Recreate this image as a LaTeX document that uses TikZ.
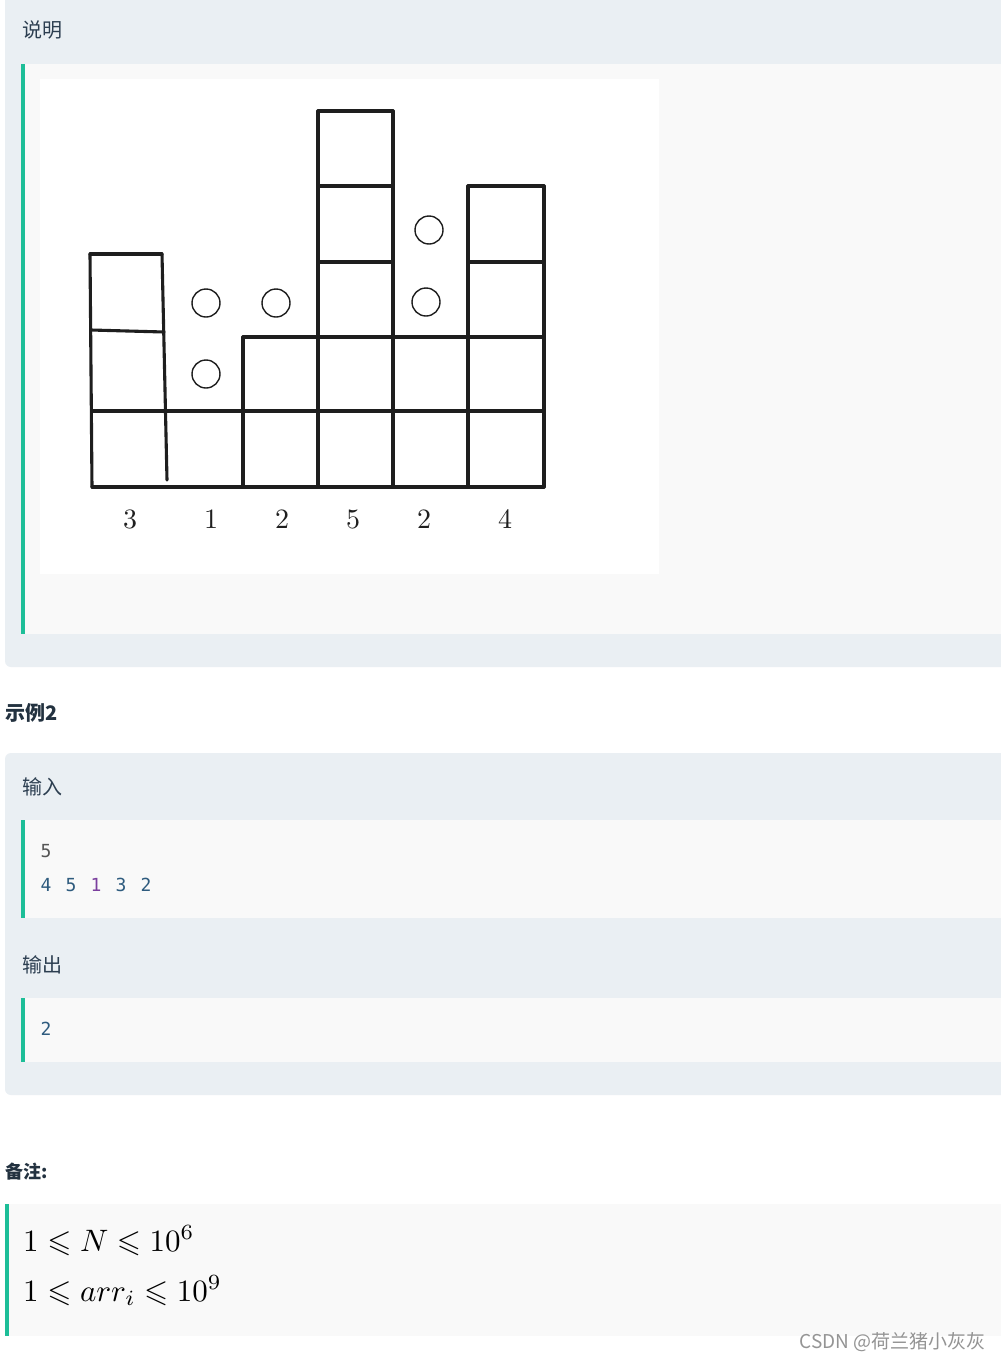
\documentclass[tikz,border=0pt]{standalone}
\usepackage{amssymb}
\usepackage{graphicx}
\usepackage{fontspec}
\newfontfamily\cjk{Noto Sans CJK SC}
\newfontfamily\monof{DejaVu Sans Mono}
\definecolor{panelbg}{HTML}{EAEFF3}
\definecolor{innerbg}{HTML}{F9F9F9}
\definecolor{accent}{HTML}{1DBE98}
\definecolor{headtxt}{HTML}{2C3E50}
\definecolor{numblue}{HTML}{2E5B7E}
\definecolor{numpurple}{HTML}{7B3F9E}
\definecolor{numgray}{HTML}{555555}
\definecolor{gridline}{HTML}{1E1E1E}
\newcommand{\bigmath}[1]{\scalebox{3.1}{\fontsize{10}{12}\selectfont$#1$}}
\newcommand{\biglbl}[1]{\scalebox{2.8}{\fontsize{10}{12}\selectfont$#1$}}
\tikzset{
  head/.style={anchor=west,text=headtxt,font=\cjk\fontsize{20}{24}\selectfont,inner sep=0pt},
  boldhead/.style={anchor=west,text=headtxt!80!black,font=\cjk\bfseries\fontsize{20}{24}\selectfont,inner sep=0pt},
  code/.style={anchor=base,font=\monof\fontsize{18}{22}\selectfont,inner sep=0pt},
  lbl/.style={anchor=base,inner sep=0pt,text=black!88},
  gridl/.style={draw=gridline,line width=3.1pt,line cap=round},
  ball/.style={circle,draw=gridline,line width=1.4pt,minimum size=28pt,inner sep=0pt},
  mathl/.style={anchor=base west,inner sep=0pt}
}
\begin{document}
\begin{tikzpicture}[x=1pt,y=-1pt]
\useasboundingbox (0,0) rectangle (1001,1360);
\clip (0,0) rectangle (1001,1360);
\fill[white] (0,0) rectangle (1001,1360);
% top panel
\fill[panelbg,rounded corners=6pt] (5,-20) rectangle (1020,667);
\fill[innerbg] (25,64) rectangle (1001,634);
\fill[accent] (21,64) rectangle (25,634);
\fill[white] (40,79) rectangle (659,574);
\node[head] (h1) at (22,30) {说明};
% grid
\draw[gridl] (90,254) -- (92,487);
\draw[gridl] (90,254) -- (162,254);
\draw[gridl] (162,254) -- (167,480);
\draw[gridl] (91,330) -- (164,332);
\draw[gridl] (92,487) -- (544,487);
\draw[gridl] (92,411) -- (544,411);
\draw[gridl] (243,337) -- (544,337);
\draw[gridl] (243,337) -- (243,487);
\draw[gridl] (318,111) -- (318,487);
\draw[gridl] (393,111) -- (393,487);
\draw[gridl] (468,186) -- (468,487);
\draw[gridl] (544,186) -- (544,487);
\draw[gridl] (318,111) -- (393,111);
\draw[gridl] (318,186) -- (393,186);
\draw[gridl] (318,262) -- (393,262);
\draw[gridl] (468,186) -- (544,186);
\draw[gridl] (468,262) -- (544,262);
% water
\node[ball] (w1) at (206,303) {};
\node[ball] (w2) at (206,374) {};
\node[ball] (w3) at (276,303) {};
\node[ball] (w4) at (429,230) {};
\node[ball] (w5) at (426,302) {};
% labels
\node[lbl] (l1) at (130,528) {\biglbl{3}};
\node[lbl] (l2) at (211,528) {\biglbl{1}};
\node[lbl] (l3) at (282,528) {\biglbl{2}};
\node[lbl] (l4) at (353,528) {\biglbl{5}};
\node[lbl] (l5) at (424,528) {\biglbl{2}};
\node[lbl] (l6) at (505,528) {\biglbl{4}};
% example 2
\node[boldhead] (ex2) at (5,713) {示例2};
\fill[panelbg,rounded corners=6pt] (5,753) rectangle (1020,1095);
\node[head] (in) at (22,787) {输入};
\fill[innerbg] (25,820) rectangle (1001,918);
\fill[accent] (21,820) rectangle (25,918);
\node[code,text=numgray] (c0) at (46,857) {5};
\node[code,text=numblue] (c1) at (46,891) {4};
\node[code,text=numblue] (c2) at (71,891) {5};
\node[code,text=numpurple] (c3) at (96,891) {1};
\node[code,text=numblue] (c4) at (121,891) {3};
\node[code,text=numblue] (c5) at (146,891) {2};
\node[head] (out) at (22,965) {输出};
\fill[innerbg] (25,998) rectangle (1001,1062);
\fill[accent] (21,998) rectangle (25,1062);
\node[code,text=numblue] (o1) at (46,1035) {2};
% notes
\node[boldhead,font=\cjk\bfseries\fontsize{18}{22}\selectfont] (note) at (5,1172) {备注:};
\fill[innerbg] (9,1204) rectangle (1001,1336);
\fill[accent] (5,1204) rectangle (9,1336);
\node[mathl] (m1) at (23,1251) {\bigmath{1 \leqslant N \leqslant 10^{6}}};
\node[mathl] (m2) at (23,1301) {\bigmath{1 \leqslant arr_i \leqslant 10^{9}}};
% watermark
\node[anchor=east,inner sep=0pt,text=white,font=\cjk\fontsize{19}{22}\selectfont] at (986.7,1342.7) {CSDN @荷兰猪小灰灰};
\node[anchor=east,inner sep=0pt,text=black!42,font=\cjk\fontsize{19}{22}\selectfont] (wm) at (986,1342) {CSDN @荷兰猪小灰灰};
\end{tikzpicture}
\end{document}
